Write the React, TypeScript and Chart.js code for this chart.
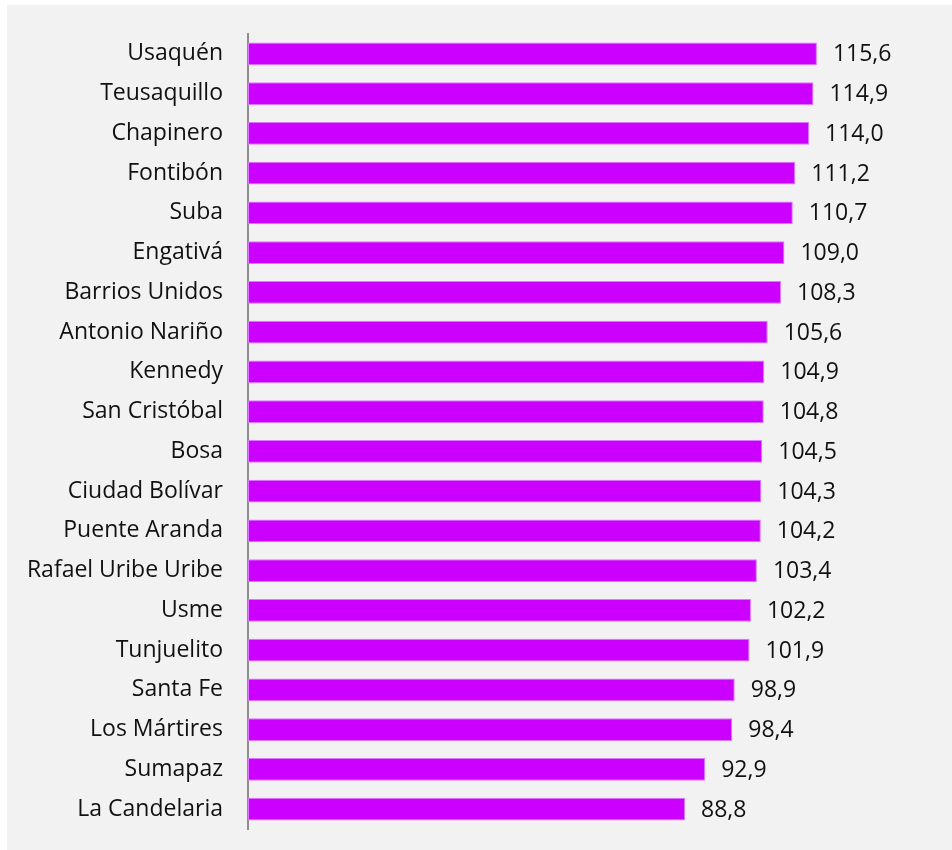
import React, { useEffect, useRef } from "react";
import { Chart, registerables } from "chart.js";

Chart.register(...registerables);

const categories = [
  "Usaquén",
  "Teusaquillo",
  "Chapinero",
  "Fontibón",
  "Suba",
  "Engativá",
  "Barrios Unidos",
  "Antonio Nariño",
  "Kennedy",
  "San Cristóbal",
  "Bosa",
  "Ciudad Bolívar",
  "Puente Aranda",
  "Rafael Uribe Uribe",
  "Usme",
  "Tunjuelito",
  "Santa Fe",
  "Los Mártires",
  "Sumapaz",
  "La Candelaria",
];

const values = [
  115.6, 114.9, 114.0, 111.2, 110.7, 109.0, 108.3, 105.6, 104.9, 104.8, 104.5,
  104.3, 104.2, 103.4, 102.2, 101.9, 98.9, 98.4, 92.9, 88.8,
];

const axisMin = 0;
const axisMax = 140;

const FONT_FAMILY = "'Open Sans', 'Noto Sans', sans-serif";
const FONT_SIZE = 23;
const TEXT_COLOR = "#111111";

const fmt = (v: number) => v.toFixed(1).replace(".", ",");

const valueLabels = {
  id: "valueLabels",
  afterDatasetsDraw(chart: any) {
    const ctx = chart.ctx;
    const meta = chart.getDatasetMeta(0);
    ctx.save();
    ctx.font = `${FONT_SIZE}px ${FONT_FAMILY}`;
    ctx.fillStyle = TEXT_COLOR;
    ctx.textAlign = "left";
    ctx.textBaseline = "middle";
    meta.data.forEach((bar: any, i: number) => {
      const v = chart.data.datasets[0].data[i] as number;
      ctx.fillText(fmt(v), bar.x + 16, bar.y + 1);
    });
    ctx.restore();
  },
};

export default function App() {
  const ref = useRef<HTMLCanvasElement | null>(null);

  useEffect(() => {
    if (!ref.current) return;
    const chart = new Chart(ref.current, {
      type: "bar",
      data: {
        labels: categories,
        datasets: [
          {
            data: values,
            backgroundColor: "#CC00FF",
            borderColor: "#DD77FF",
            borderWidth: 1,
            borderSkipped: false,
            barPercentage: 0.57,
            categoryPercentage: 1,
          },
        ],
      },
      options: {
        indexAxis: "y",
        responsive: false,
        animation: false,
        layout: { padding: { top: 29, bottom: 21, right: 15, left: 0 } },
        plugins: {
          legend: { display: false },
          tooltip: { enabled: false },
          title: { display: false },
        },
        scales: {
          x: {
            display: false,
            min: axisMin,
            max: axisMax,
          },
          y: {
            grid: { display: false, drawTicks: false },
            border: { display: true, color: "#8E8E8E", width: 2 },
            ticks: {
              color: TEXT_COLOR,
              padding: 25,
              font: { family: FONT_FAMILY, size: FONT_SIZE },
            },
            afterFit(scale: any) {
              scale.width = 241;
              scale.paddingTop = 0;
              scale.paddingBottom = 0;
            },
          },
        },
      },
      plugins: [valueLabels],
    });
    return () => chart.destroy();
  }, []);

  return (
    <div
      style={{
        position: "absolute",
        left: 7,
        top: 5,
        width: 945,
        height: 845,
        background: "#F2F2F2",
      }}
    >
      <canvas ref={ref} width={945} height={845} style={{ display: "block" }} />
    </div>
  );
}
